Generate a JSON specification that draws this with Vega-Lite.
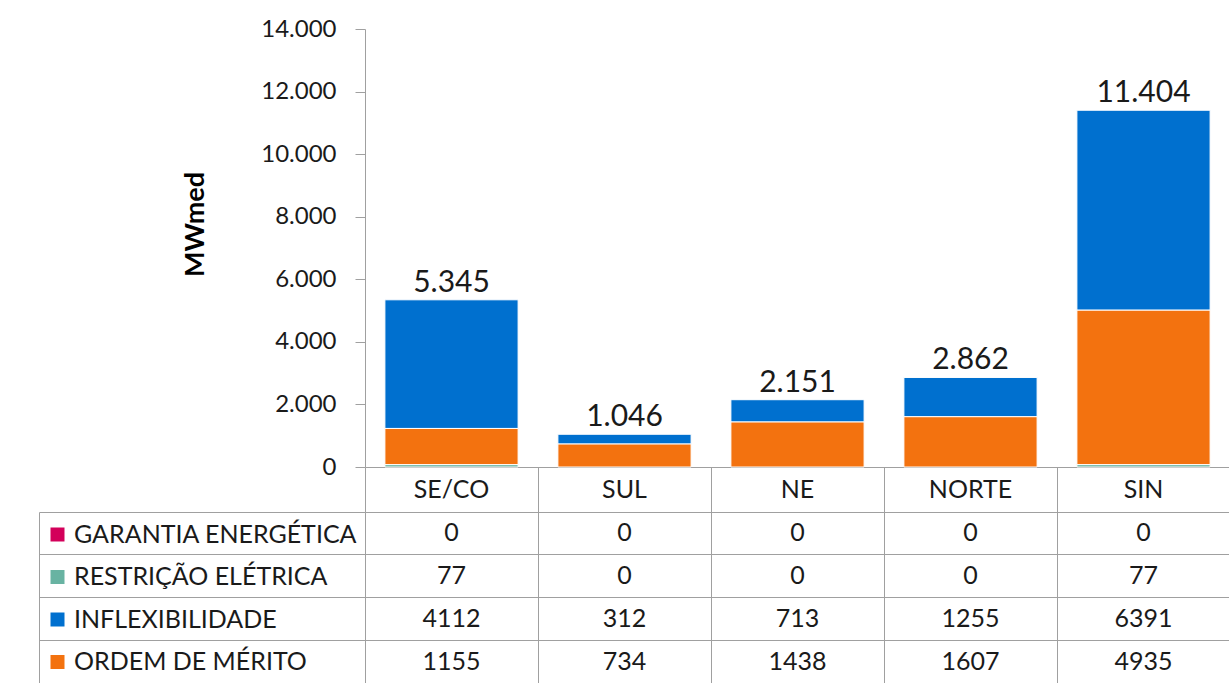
{
  "$schema": "https://vega.github.io/schema/vega-lite/v6.json",
  "background": "white",
  "padding": {"left": 38, "top": 17, "right": 0, "bottom": 0},
  "autosize": {"type": "pad"},
  "bounds": "flush",
  "spacing": 45,
  "config": {
    "locale": {"number": {"decimal": ",", "thousands": ".", "grouping": [3], "currency": ["R$", ""]}},
    "view": {"stroke": null},
    "font": "Lato",
    "axis": {"domainColor": "#a0a0a0", "tickColor": "#a0a0a0", "gridColor": "#a0a0a0", "gridOpacity": 1, "labelColor": "#1a1a1a", "labelFont": "Lato"},
    "legend": {"labelFont": "Lato"}
  },
  "datasets": {
    "values": [
      {"region": "SE/CO", "series": "GARANTIA ENERGÉTICA", "value": 0},
      {"region": "SUL", "series": "GARANTIA ENERGÉTICA", "value": 0},
      {"region": "NE", "series": "GARANTIA ENERGÉTICA", "value": 0},
      {"region": "NORTE", "series": "GARANTIA ENERGÉTICA", "value": 0},
      {"region": "SIN", "series": "GARANTIA ENERGÉTICA", "value": 0},
      {"region": "SE/CO", "series": "RESTRIÇÃO ELÉTRICA", "value": 77},
      {"region": "SUL", "series": "RESTRIÇÃO ELÉTRICA", "value": 0},
      {"region": "NE", "series": "RESTRIÇÃO ELÉTRICA", "value": 0},
      {"region": "NORTE", "series": "RESTRIÇÃO ELÉTRICA", "value": 0},
      {"region": "SIN", "series": "RESTRIÇÃO ELÉTRICA", "value": 77},
      {"region": "SE/CO", "series": "INFLEXIBILIDADE", "value": 4112},
      {"region": "SUL", "series": "INFLEXIBILIDADE", "value": 312},
      {"region": "NE", "series": "INFLEXIBILIDADE", "value": 713},
      {"region": "NORTE", "series": "INFLEXIBILIDADE", "value": 1255},
      {"region": "SIN", "series": "INFLEXIBILIDADE", "value": 6391},
      {"region": "SE/CO", "series": "ORDEM DE MÉRITO", "value": 1155},
      {"region": "SUL", "series": "ORDEM DE MÉRITO", "value": 734},
      {"region": "NE", "series": "ORDEM DE MÉRITO", "value": 1438},
      {"region": "NORTE", "series": "ORDEM DE MÉRITO", "value": 1607},
      {"region": "SIN", "series": "ORDEM DE MÉRITO", "value": 4935}
    ],
    "totals": [
      {"region": "SE/CO", "total": 5345},
      {"region": "SUL", "total": 1046},
      {"region": "NE", "total": 2151},
      {"region": "NORTE", "total": 2862},
      {"region": "SIN", "total": 11404}
    ]
  },
  "vconcat": [
    {
      "width": 1191,
      "height": 438,
      "encoding": {
        "x": {
          "field": "region", "type": "nominal",
          "sort": ["SE/CO", "SUL", "NE", "NORTE", "SIN"],
          "scale": {"type": "band", "range": [326, 1191], "paddingInner": 0, "paddingOuter": 0},
          "axis": {"orient": "bottom", "title": null, "labels": false, "ticks": true, "tickSize": 45, "bandPosition": 0, "domain": true, "grid": false}
        }
      },
      "layer": [
        {
          "data": {"name": "values"},
          "transform": [{"filter": "datum.value > 0"}],
          "mark": {"type": "bar", "width": {"band": 0.77}, "stroke": "#ffffff", "strokeWidth": 1},
          "encoding": {
            "y": {
              "field": "value", "type": "quantitative", "stack": "zero",
              "scale": {"domain": [0, 14000], "nice": false},
              "axis": {
                "orient": "left", "offset": -326, "values": [0, 2000, 4000, 6000, 8000, 10000, 12000, 14000],
                "format": ",.0f", "labelFontSize": 24, "tickSize": 10, "labelPadding": 19, "grid": false,
                "title": "MWmed", "titleFont": "Lato", "titleFontWeight": "bold", "titleFontSize": 27, "titleColor": "#000000",
                "titleX": -162, "titleY": 195, "titleAngle": -90, "titleAlign": "center", "titleBaseline": "alphabetic"
              }
            },
            "color": {
              "field": "series", "type": "nominal",
              "sort": ["ORDEM DE MÉRITO", "INFLEXIBILIDADE", "RESTRIÇÃO ELÉTRICA", "GARANTIA ENERGÉTICA"],
              "scale": {
                "domain": ["ORDEM DE MÉRITO", "INFLEXIBILIDADE", "RESTRIÇÃO ELÉTRICA", "GARANTIA ENERGÉTICA"],
                "range": ["#F3720F", "#0070CF", "#68B3A2", "#D3005A"]
              },
              "legend": {
                "orient": "none", "legendX": 6, "legendY": 493, "title": null,
                "values": ["GARANTIA ENERGÉTICA", "RESTRIÇÃO ELÉTRICA", "INFLEXIBILIDADE", "ORDEM DE MÉRITO"],
                "symbolType": "square", "symbolSize": 196, "symbolStrokeWidth": 0, "symbolOpacity": 1,
                "labelFontSize": 25, "labelColor": "#1a1a1a", "labelOffset": 4, "labelLimit": 400,
                "rowPadding": 16.5, "padding": 0
              }
            }
          }
        },
        {
          "data": {"name": "totals"},
          "mark": {"type": "text", "fontSize": 30, "font": "Lato", "color": "#1a1a1a", "baseline": "alphabetic", "dy": -8},
          "encoding": {
            "y": {"field": "total", "type": "quantitative"},
            "text": {"field": "total", "type": "quantitative", "format": ",.0f"}
          }
        }
      ]
    },
    {
      "width": 1191,
      "height": 171,
      "data": {"name": "values"},
      "mark": {"type": "text", "fontSize": 25, "font": "Lato", "color": "#1a1a1a", "baseline": "middle"},
      "encoding": {
        "x": {
          "field": "region", "type": "nominal",
          "sort": ["SE/CO", "SUL", "NE", "NORTE", "SIN"],
          "scale": {"type": "band", "range": [326, 1191], "paddingInner": 0, "paddingOuter": 0},
          "axis": {"orient": "top", "title": null, "labelAngle": 0, "labelFontSize": 25, "labelBaseline": "middle", "labelPadding": 23, "ticks": false, "tickSize": 0, "domain": false, "grid": true, "bandPosition": 0}
        },
        "y": {
          "field": "series", "type": "nominal",
          "sort": ["GARANTIA ENERGÉTICA", "RESTRIÇÃO ELÉTRICA", "INFLEXIBILIDADE", "ORDEM DE MÉRITO"],
          "scale": {"type": "band", "paddingInner": 0, "paddingOuter": 0},
          "axis": {"orient": "left", "title": null, "labels": false, "ticks": true, "tickSize": -326, "domain": true, "grid": true, "bandPosition": 0}
        },
        "text": {"field": "value", "type": "quantitative", "format": "d"}
      }
    }
  ]
}
